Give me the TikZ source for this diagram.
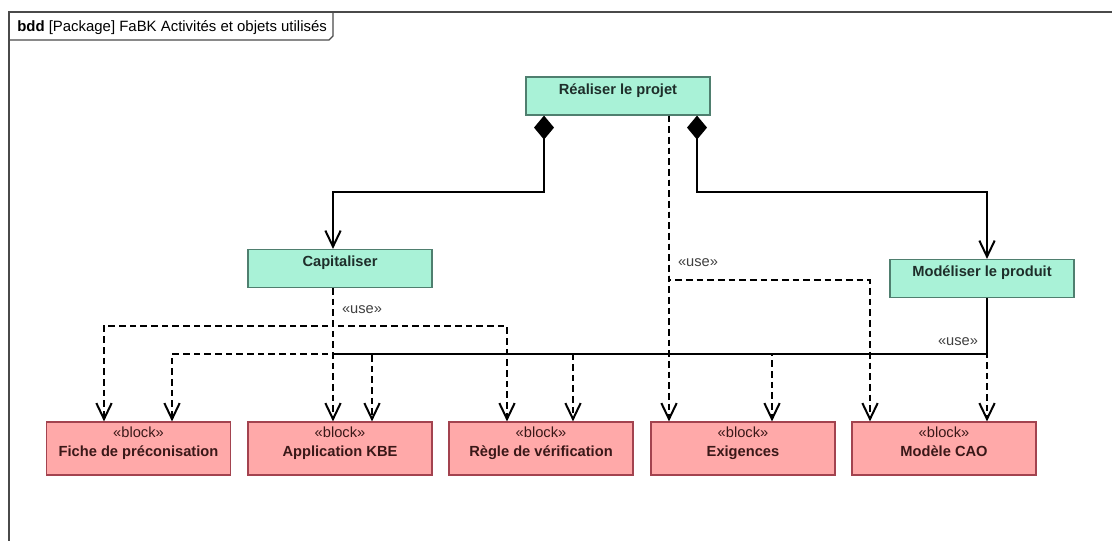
\documentclass[tikz,border=0pt]{standalone}
\usepackage{fontspec}
\setmainfont{Liberation Sans}
\usepackage{tikz}
\usetikzlibrary{arrows.meta}
\definecolor{actfill}{HTML}{A9F2D7}
\definecolor{actdraw}{HTML}{4F7F6F}
\definecolor{acttext}{HTML}{1E2E2A}
\definecolor{blkfill}{HTML}{FFA9A9}
\definecolor{blkdraw}{HTML}{A3434F}
\definecolor{blktext}{HTML}{3A1818}
\definecolor{framecol}{HTML}{4A4A4A}

\begin{document}
\begin{tikzpicture}[x=0.75pt,y=-0.75pt,
  act/.style={draw=actdraw,fill=actfill,line width=0.9pt,minimum width=138pt,
              inner ysep=0pt,text height=13pt,text depth=15.5pt,text=acttext,
              font=\bfseries\fontsize{11}{14}\selectfont},
  blk/.style={draw=blkdraw,fill=blkfill,line width=0.9pt,minimum width=138pt,
              inner ysep=0pt,text height=25.5pt,text depth=14.25pt,align=center,
              text=blktext,font=\fontsize{11}{14.25}\selectfont},
  comp/.style={line width=1.5pt,
               {Diamond[length=18pt,width=15pt]}-{Straight Barb[length=12pt,width=11.5pt]}},
  usedep/.style={line width=1.5pt,dash pattern=on 5pt off 3pt,
                 -{Straight Barb[length=12pt,width=11.5pt]}},
  uselbl/.style={inner sep=0pt,text=black!75,font=\fontsize{11}{13}\selectfont}
]
\useasboundingbox (0,0) rectangle (1112,541);

% cadre du diagramme
\draw[framecol,line width=1.5pt] (9,541) -- (9,12) -- (1112,12);
\draw[framecol,line width=0.8pt] (9,40) -- (329,40) -- (333,36) -- (333,12);
\node[anchor=base west,inner sep=0pt,font=\fontsize{11.2}{13}\selectfont] (hdr)
  at (17,32) {\textbf{bdd} [Package] FaBK Activités et objets utilisés};

% activités
\node[act] (real) at (618,96) {Réaliser le projet};
\node[act] (cap) at (340,268.5) {Capitaliser};
\node[act] (mod) at (982,278.5) {Modéliser le produit};

% blocs
\node[blk] (fiche) at (138.5,448.5) {«block»\\\textbf{Fiche de préconisation}};
\node[blk] (app) at (340,448.5) {«block»\\\textbf{Application KBE}};
\node[blk] (regle) at (541,448.5) {«block»\\\textbf{Règle de vérification}};
\node[blk] (exig) at (743,448.5) {«block»\\\textbf{Exigences}};
\node[blk] (modele) at (944,448.5) {«block»\\\textbf{Modèle CAO}};

% points de passage
\coordinate (k1) at (544,192);
\coordinate (k2) at (697,192);
\coordinate (rbus) at (669,280);
\coordinate (cbus) at (333,326);
\coordinate (mbus) at (987,354);

% composition
\draw[comp] (real.south -| k1) -- (k1) -| (cap.north -| cbus);
\draw[comp] (real.south -| k2) -- (k2) -| (mod.north -| mbus);

% use de Réaliser le projet
\draw[usedep] (real.south -| rbus) -- node[uselbl,pos=0.92,anchor=base west,xshift=6pt]
  {«use»} (rbus) -- (exig.north -| rbus);
\draw[usedep] (real.south -| rbus) -- (rbus) -- (870,280) -- (modele.north -| 870,0);

% use de Capitaliser
\draw[usedep] (cap.south -| cbus) -- node[uselbl,pos=0.68,anchor=base west,xshift=6pt]
  {«use»} (cbus) -- (app.north -| cbus);
\draw[usedep] (cap.south -| cbus) -- (cbus) -- (104,326) -- (fiche.north -| 104,0);
\draw[usedep] (cap.south -| cbus) -- (cbus) -- (507,326) -- (regle.north -| 507,0);

% use de Modéliser le produit
\foreach \t/\x in {fiche/172,app/372,regle/573,exig/772}
  \draw[usedep] (mod.south -| mbus) -- (mbus) -- (\x,354) -- (\t.north -| \x,0);
\draw[usedep] (mod.south -| mbus) -- node[uselbl,pos=0.84,anchor=base east,xshift=-6pt]
  {«use»} (mbus) -- (modele.north -| mbus);
\draw[line width=1.5pt] (mod.south -| mbus) -- (mbus) -- (333,354);
\end{tikzpicture}
\end{document}
